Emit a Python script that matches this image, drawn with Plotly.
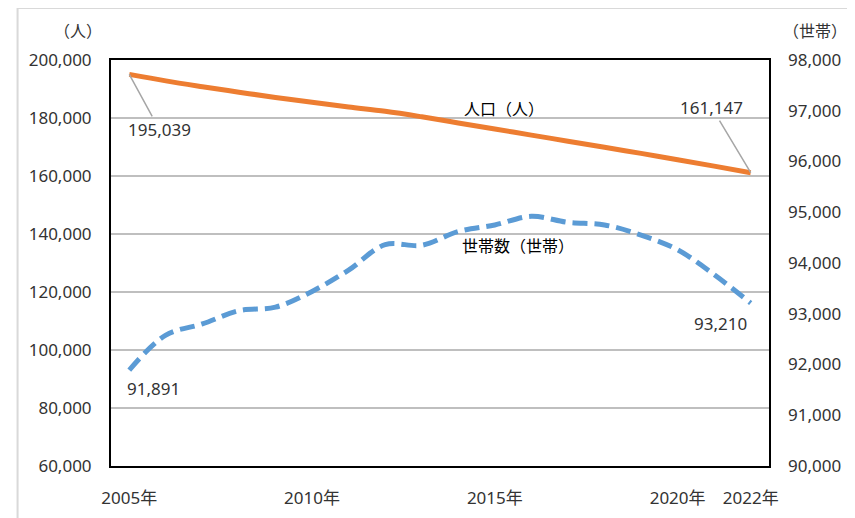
import plotly.graph_objects as go

years = list(range(2005, 2023))
population = [195039, 192800, 190800, 188900, 187100, 185400, 183800, 182300, 180400,
              178300, 176200, 174100, 172000, 169900, 167800, 165600, 163400, 161147]
households = [91891, 92580, 92800, 93060, 93130, 93440, 93860, 94360, 94350,
              94620, 94750, 94920, 94800, 94750, 94550, 94260, 93770, 93210]
tick_years = [2005, 2010, 2015, 2020, 2022]
tick_labels = ["2005年", "2010年", "2015年", "2020年", "2022年"]

FONT = "Noto Sans, Noto Sans CJK JP"
TXT = "#333333"

fig = go.Figure()
fig.add_trace(go.Scatter(x=years, y=population, mode="lines", name="人口（人）",
                         line=dict(color="#ED7D31", width=5, shape="spline"),
                         yaxis="y"))
fig.add_trace(go.Scatter(x=years, y=households, mode="lines", name="世帯数（世帯）",
                         line=dict(color="#5B9BD5", width=5, shape="spline", dash="15px,7px"),
                         yaxis="y2"))

fmt = lambda v: f"{v:,}"
annotations = [
    dict(x=years[0], y=population[0], xref="x", yref="y", text=fmt(population[0]),
         showarrow=True, arrowhead=0, arrowwidth=1.5, arrowcolor="#A6A6A6",
         ax=30, ay=55, font=dict(size=17, color=TXT, family=FONT)),
    dict(x=years[-1], y=population[-1], xref="x", yref="y", text=fmt(population[-1]),
         showarrow=True, arrowhead=0, arrowwidth=1.5, arrowcolor="#A6A6A6",
         ax=-39, ay=-65, font=dict(size=17, color=TXT, family=FONT)),
    dict(x=years[0], y=households[0], xref="x", yref="y2", text=fmt(households[0]),
         showarrow=False, xshift=24, yshift=-18, font=dict(size=17, color=TXT, family=FONT)),
    dict(x=years[-1], y=households[-1], xref="x", yref="y2", text=fmt(households[-1]),
         showarrow=False, xshift=-30, yshift=-20, font=dict(size=17, color=TXT, family=FONT)),
    dict(x=0.597, y=0.911, xref="paper", yref="paper", text="人口（人）", showarrow=False,
         font=dict(size=16, color="#000000", family=FONT)),
    dict(x=0.619, y=0.542, xref="paper", yref="paper", text="世帯数（世帯）", showarrow=False,
         font=dict(size=16, color="#000000", family=FONT)),
    dict(x=-0.05, y=1.0, xref="paper", yref="paper", text="（人）", showarrow=False,
         xanchor="center", yanchor="bottom", yshift=16,
         font=dict(size=16, color=TXT, family=FONT)),
    dict(x=1.07, y=1.0, xref="paper", yref="paper", text="（世帯）", showarrow=False,
         xanchor="center", yanchor="bottom", yshift=16,
         font=dict(size=16, color=TXT, family=FONT)),
]

fig.update_layout(
    width=847, height=510,
    margin=dict(l=103, r=86, t=52, b=52),
    paper_bgcolor="white", plot_bgcolor="white",
    showlegend=False,
    font=dict(family=FONT, size=17, color=TXT),
    xaxis=dict(range=[2004.5, 2022.5], tickvals=tick_years, ticktext=tick_labels,
               showgrid=False, showline=True, linecolor="black", linewidth=2, mirror=True,
               ticks="", ticklabelstandoff=16, tickfont=dict(size=17), tickangle=0,
               automargin=False, zeroline=False),
    yaxis=dict(range=[60000, 200000], dtick=20000, tickformat=",d",
               showgrid=True, gridcolor="#BFBFBF", gridwidth=1.5,
               showline=True, linecolor="black", linewidth=2, mirror=True,
               ticks="", ticklabelstandoff=14, zeroline=False, tickfont=dict(size=17),
               automargin=False),
    yaxis2=dict(range=[90000, 98000], dtick=1000, tickformat=",d", overlaying="y",
                side="right", showgrid=False, showline=False, zeroline=False,
                ticks="", ticklabelstandoff=18, tickfont=dict(size=17), automargin=False),
    annotations=annotations,
    shapes=[dict(type="rect", xref="paper", yref="paper", x0=-0.142, x1=1.2,
                 y0=-0.2, y1=1.128, line=dict(color="#D9D9D9", width=2),
                 fillcolor="rgba(0,0,0,0)", layer="below")],
)

fig.write_html("out.html")
